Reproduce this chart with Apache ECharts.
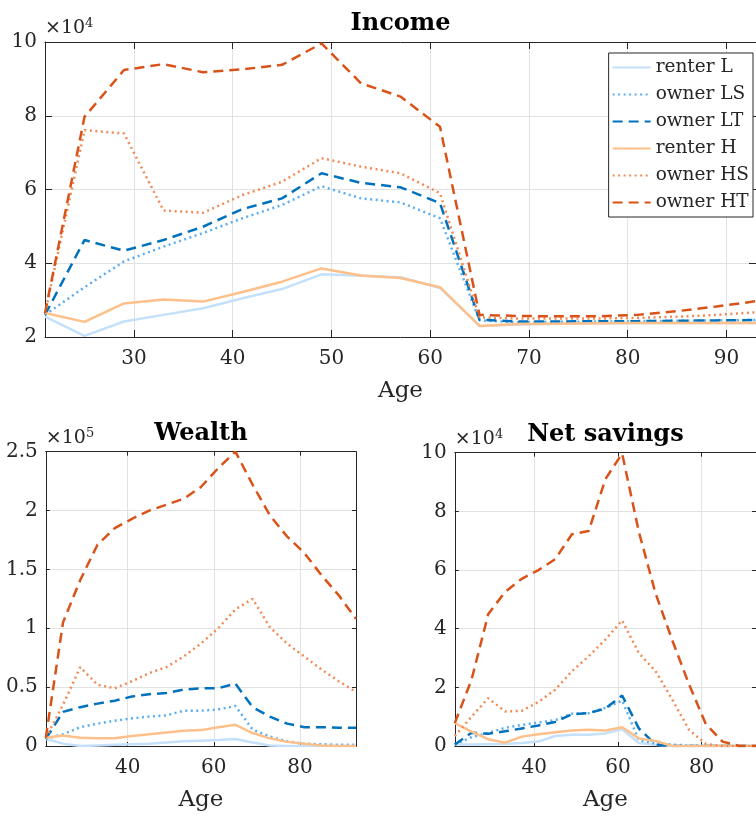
<!DOCTYPE html>
<html>
<head>
<meta charset="utf-8">
<script src="https://cdn.jsdelivr.net/npm/echarts@6/dist/echarts.min.js"></script>
<style>
  html, body { margin: 0; padding: 0; background: #ffffff; }
  #chart { width: 756px; height: 819px; }
</style>
</head>
<body>
<div id="chart"></div>
<script>
// Age groups (4-year steps)
const ages = [21, 25, 29, 33, 37, 41, 45, 49, 53, 57, 61, 65, 69, 73, 77, 81, 85, 89, 93];
const seriesNames = ['renter L', 'owner LS', 'owner LT', 'renter H', 'owner HS', 'owner HT'];

// Tick positions
const incomeAgeTicks = [30, 40, 50, 60, 70, 80, 90];
const smallAgeTicks = [40, 60, 80];

// Income, in units of 10^4
const incomeRenterL = [2.55, 2.03, 2.42, 2.60, 2.78, 3.05, 3.30, 3.70, 3.66, 3.62, 3.33, 2.30, 2.34, 2.36, 2.37, 2.38, 2.38, 2.38, 2.38];
const incomeOwnerLS = [2.60, 3.35, 4.05, 4.45, 4.82, 5.22, 5.58, 6.09, 5.76, 5.65, 5.22, 2.45, 2.40, 2.41, 2.42, 2.43, 2.44, 2.45, 2.46];
const incomeOwnerLT = [2.60, 4.63, 4.34, 4.63, 4.99, 5.47, 5.76, 6.44, 6.18, 6.06, 5.63, 2.47, 2.42, 2.42, 2.43, 2.43, 2.44, 2.45, 2.46];
const incomeRenterH = [2.65, 2.41, 2.91, 3.02, 2.96, 3.22, 3.50, 3.86, 3.67, 3.60, 3.35, 2.30, 2.35, 2.36, 2.37, 2.38, 2.38, 2.38, 2.38];
const incomeOwnerHS = [2.65, 7.61, 7.52, 5.43, 5.37, 5.85, 6.21, 6.85, 6.62, 6.44, 5.90, 2.53, 2.50, 2.50, 2.50, 2.52, 2.55, 2.60, 2.67];
const incomeOwnerHT = [2.65, 7.97, 9.24, 9.40, 9.18, 9.26, 9.38, 9.96, 8.88, 8.52, 7.70, 2.60, 2.57, 2.56, 2.56, 2.60, 2.70, 2.83, 2.97];

// Wealth, in units of 10^5
const wealthRenterL = [0.06, 0.02, 0.00, 0.005, 0.01, 0.015, 0.02, 0.03, 0.04, 0.045, 0.05, 0.06, 0.03, 0.005, 0, 0, 0, 0, 0];
const wealthOwnerLS = [0.06, 0.10, 0.16, 0.19, 0.215, 0.235, 0.25, 0.26, 0.30, 0.30, 0.31, 0.34, 0.14, 0.08, 0.04, 0.02, 0.015, 0.01, 0.01];
const wealthOwnerLT = [0.06, 0.29, 0.33, 0.36, 0.385, 0.42, 0.44, 0.45, 0.48, 0.49, 0.49, 0.53, 0.33, 0.25, 0.19, 0.16, 0.16, 0.155, 0.155];
const wealthRenterH = [0.07, 0.09, 0.07, 0.065, 0.065, 0.085, 0.10, 0.115, 0.13, 0.135, 0.16, 0.18, 0.11, 0.065, 0.035, 0.02, 0.005, 0, 0];
const wealthOwnerHS = [0.07, 0.35, 0.67, 0.52, 0.49, 0.55, 0.62, 0.67, 0.76, 0.87, 1.00, 1.16, 1.25, 1.01, 0.87, 0.76, 0.65, 0.55, 0.46];
const wealthOwnerHT = [0.07, 1.05, 1.41, 1.71, 1.85, 1.93, 2.00, 2.05, 2.10, 2.20, 2.36, 2.50, 2.22, 1.96, 1.78, 1.64, 1.45, 1.28, 1.08];

// Net savings, in units of 10^4
const savingsRenterL = [0.05, 0.05, 0.06, 0.07, 0.10, 0.15, 0.34, 0.38, 0.38, 0.43, 0.57, 0.10, 0.04, 0, 0, 0, 0, 0, 0];
const savingsOwnerLS = [0.05, 0.30, 0.45, 0.62, 0.72, 0.80, 0.88, 1.10, 1.12, 1.30, 1.55, 0.20, 0.08, 0.05, 0.02, 0, 0, 0, 0];
const savingsOwnerLT = [0.05, 0.45, 0.42, 0.50, 0.60, 0.70, 0.82, 1.08, 1.12, 1.28, 1.72, 0.60, 0.05, 0, 0, 0, 0, 0, 0];
const savingsRenterH = [0.78, 0.49, 0.23, 0.11, 0.32, 0.40, 0.47, 0.53, 0.55, 0.53, 0.64, 0.26, 0.17, 0, 0, 0, 0, 0, 0];
const savingsOwnerHS = [0.34, 1.00, 1.63, 1.18, 1.20, 1.50, 1.92, 2.55, 3.06, 3.63, 4.28, 3.17, 2.55, 1.58, 0.55, 0.07, 0, 0, 0];
const savingsOwnerHT = [0.78, 2.26, 4.50, 5.25, 5.70, 6.00, 6.37, 7.22, 7.33, 9.10, 9.97, 7.30, 5.20, 3.60, 2.10, 0.75, 0.15, 0, 0];

const FONT = 'DejaVu Serif';
const INK = '#262626';
const GRID_LINE = '#e2e2e2';

// Line appearance per group
const looks = [
  { color: '#c4e0fb', type: 'solid' },
  { color: '#5aaef0', type: [2, 3.5] },
  { color: '#0072bd', type: [10, 6] },
  { color: '#fec08a', type: 'solid' },
  { color: '#ef8b56', type: [2, 3.5] },
  { color: '#d95319', type: [10, 6] }
];

const panels = [
  { values: [incomeRenterL, incomeOwnerLS, incomeOwnerLT, incomeRenterH, incomeOwnerHS, incomeOwnerHT],
    grid: { left: 45, top: 42, width: 720, height: 295 },
    yMin: 2, yMax: 10, yStep: 2, ticks: incomeAgeTicks, title: 'Income', exp: '4', tickLen: 7 },
  { values: [wealthRenterL, wealthOwnerLS, wealthOwnerLT, wealthRenterH, wealthOwnerHS, wealthOwnerHT],
    grid: { left: 45.8, top: 451.7, width: 310.2, height: 294.3 },
    yMin: 0, yMax: 2.5, yStep: 0.5, ticks: smallAgeTicks, title: 'Wealth', exp: '5', tickLen: 4 },
  { values: [savingsRenterL, savingsOwnerLS, savingsOwnerLT, savingsRenterH, savingsOwnerHS, savingsOwnerHT],
    grid: { left: 454.8, top: 452.7, width: 310.2, height: 293.3 },
    yMin: 0, yMax: 10, yStep: 2, ticks: smallAgeTicks, title: 'Net savings', exp: '4', tickLen: 4 }
];

const grids = [], xAxes = [], yAxes = [], series = [];

panels.forEach((p, gi) => {
  grids.push(Object.assign({ containLabel: false }, p.grid));
  const baseX = { type: 'value', gridIndex: gi, min: 21, max: 93 };
  // bottom axis with labels and grid lines
  xAxes.push(Object.assign({}, baseX, {
    position: 'bottom',
    name: 'Age', nameLocation: 'middle', nameGap: 43,
    nameTextStyle: { fontFamily: FONT, fontSize: 23, color: INK },
    axisLine: { show: true, onZero: false, lineStyle: { color: INK, width: 1 } },
    axisTick: { show: true, inside: true, length: p.tickLen, customValues: p.ticks, lineStyle: { color: INK } },
    axisLabel: { show: true, margin: 12, customValues: p.ticks, fontFamily: FONT, fontSize: 20, color: INK },
    splitLine: { show: true, lineStyle: { color: GRID_LINE, width: 1 } }
  }));
  // top axis closes the box and carries the panel title
  xAxes.push(Object.assign({}, baseX, {
    position: 'top',
    name: p.title, nameLocation: 'middle', nameGap: 6,
    nameTextStyle: { fontFamily: FONT, fontSize: 24, fontWeight: 'bold', color: '#000' },
    axisLine: { show: true, onZero: false, lineStyle: { color: INK, width: 1 } },
    axisTick: { show: true, inside: true, length: p.tickLen, customValues: p.ticks, lineStyle: { color: INK } },
    axisLabel: { show: false },
    splitLine: { show: false }
  }));
  const baseY = { type: 'value', gridIndex: gi, min: p.yMin, max: p.yMax, interval: p.yStep };
  yAxes.push(Object.assign({}, baseY, {
    position: 'left',
    name: '{a|×10}{b|' + p.exp + '}', nameLocation: 'end', nameGap: 2,
    nameTextStyle: {
      align: 'left', verticalAlign: 'bottom', padding: [0, 0, 0, 0],
      rich: {
        a: { fontFamily: FONT, fontSize: 19, color: INK },
        b: { fontFamily: FONT, fontSize: 13, color: INK, verticalAlign: 'top', padding: [0, 0, 10, 0] }
      }
    },
    axisLine: { show: true, onZero: false, lineStyle: { color: INK, width: 1 } },
    axisTick: { show: true, inside: true, length: p.tickLen, lineStyle: { color: INK } },
    axisLabel: { show: true, margin: 8, fontFamily: FONT, fontSize: 20, color: INK },
    splitLine: { show: true, lineStyle: { color: GRID_LINE, width: 1 } }
  }));
  yAxes.push(Object.assign({}, baseY, {
    position: 'right',
    axisLine: { show: true, onZero: false, lineStyle: { color: INK, width: 1 } },
    axisTick: { show: true, inside: true, length: p.tickLen, lineStyle: { color: INK } },
    axisLabel: { show: false },
    splitLine: { show: false }
  }));

  p.values.forEach((vals, si) => {
    series.push({
      type: 'line',
      name: seriesNames[si],
      xAxisIndex: gi * 2,
      yAxisIndex: gi * 2,
      data: ages.map((a, k) => [a, vals[k]]),
      symbol: 'none',
      smooth: false,
      clip: true,
      animation: false,
      lineStyle: { color: looks[si].color, width: 2.5, type: looks[si].type, cap: 'butt' },
      itemStyle: { color: looks[si].color },
      z: 3 + si
    });
  });
});

const chart = echarts.init(document.getElementById('chart'), null, { renderer: 'canvas' });
chart.setOption({
  backgroundColor: '#ffffff',
  animation: false,
  grid: grids,
  xAxis: xAxes,
  yAxis: yAxes,
  legend: {
    data: seriesNames,
    orient: 'vertical',
    align: 'left',
    right: 3, top: 53,
    padding: [5, 4, 5, 3],
    itemGap: 8,
    itemWidth: 38, itemHeight: 14,
    itemStyle: { opacity: 0 },
    backgroundColor: '#ffffff',
    borderColor: INK, borderWidth: 1,
    textStyle: { fontFamily: FONT, fontSize: 18.5, color: INK },
    selectedMode: false
  },
  series: series
});
</script>
</body>
</html>
